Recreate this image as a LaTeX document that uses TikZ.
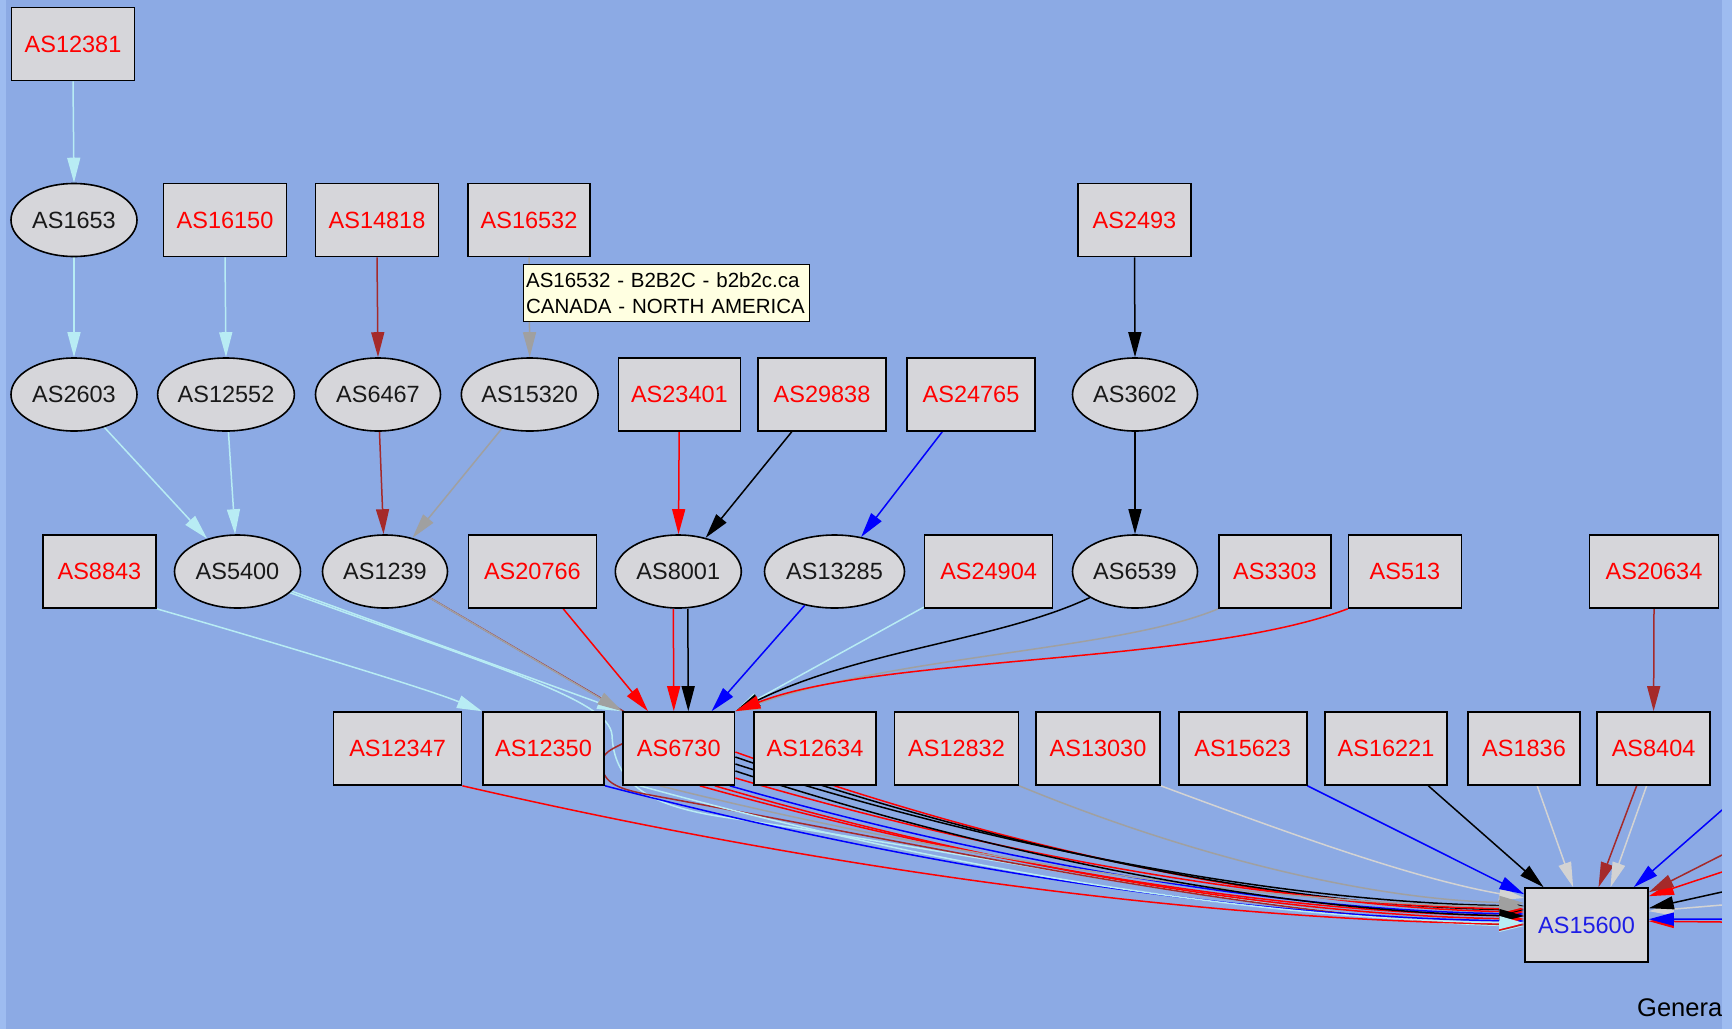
\documentclass[tikz,border=0pt]{standalone}
\usepackage{fontspec}
\newfontfamily\lsans{Liberation Sans}
\usetikzlibrary{shapes.geometric,arrows.meta,calc}
\definecolor{bgblue}{RGB}{140,170,228}
\definecolor{strip}{RGB}{158,188,240}
\definecolor{nfill}{RGB}{214,214,218}
\definecolor{pcyan}{RGB}{184,236,244}
\definecolor{brn}{RGB}{165,42,42}
\definecolor{gry}{RGB}{160,160,160}
\definecolor{lgry}{RGB}{211,211,211}
\definecolor{tipfill}{RGB}{255,255,225}
\definecolor{dtext}{RGB}{25,25,25}
\definecolor{btext}{RGB}{30,30,230}
\pgfdeclarelayer{edges}
\pgfsetlayers{edges,main}
\tikzset{
  nd/.style={draw=black,line width=1.6pt,fill=nfill,inner sep=0pt,minimum height=73pt,
    font=\lsans\fontsize{23.5}{28}\selectfont},
  box/.style={nd,rectangle,text=red},
  ell/.style={nd,ellipse,text=dtext},
  conn/.style={line width=1.5pt,-{Triangle[length=25pt,width=13pt]}},
  plain/.style={line width=1.5pt},
}
\newcommand\bcurve[3]{%
  \draw[conn,#1] let \p1=(#2), \p2=(#3) in (\p1)
    .. controls ({\x1+0.35*(\x2-\x1)},{\y1+0.62*(\y2-\y1)})
    and ({\x1+0.7*(\x2-\x1)},{\y1+0.97*(\y2-\y1)}) .. (\p2);}
\begin{document}
\begin{tikzpicture}[x=1pt,y=-1pt]
\useasboundingbox (0,0) rectangle (1732,1029);
% row 0
\node[box,minimum width=123pt] (AS12381) at (73,44) {AS12381};
% row 1
\node[ell,minimum width=126pt] (AS1653) at (74,220) {AS1653};
\node[box,minimum width=123pt] (AS16150) at (225,220) {AS16150};
\node[box,minimum width=123pt] (AS14818) at (377,220) {AS14818};
\node[box,minimum width=122pt] (AS16532) at (529,220) {AS16532};
\node[box,minimum width=113pt] (AS2493) at (1134.5,220) {AS2493};
% row 2
\node[ell,minimum width=126pt] (AS2603) at (74,394.5) {AS2603};
\node[ell,minimum width=136pt] (AS12552) at (226,394.5) {AS12552};
\node[ell,minimum width=125pt] (AS6467) at (378,394.5) {AS6467};
\node[ell,minimum width=136pt] (AS15320) at (529.7,394.5) {AS15320};
\node[box,minimum width=122pt] (AS23401) at (679.4,394.5) {AS23401};
\node[box,minimum width=128pt] (AS29838) at (822,394.5) {AS29838};
\node[box,minimum width=128pt] (AS24765) at (971,394.5) {AS24765};
\node[ell,minimum width=125pt] (AS3602) at (1135,394.5) {AS3602};
% row 3
\node[box,minimum width=113pt] (AS8843) at (99.4,571.5) {AS8843};
\node[ell,minimum width=126pt] (AS5400) at (237.5,571.5) {AS5400};
\node[ell,minimum width=125pt] (AS1239) at (385,571.5) {AS1239};
\node[box,minimum width=128pt] (AS20766) at (532.4,571.5) {AS20766};
\node[ell,minimum width=126pt] (AS8001) at (678.3,571.5) {AS8001};
\node[ell,minimum width=140pt] (AS13285) at (834.5,571.5) {AS13285};
\node[box,minimum width=128pt] (AS24904) at (988.6,571.5) {AS24904};
\node[ell,minimum width=125pt] (AS6539) at (1135,571.5) {AS6539};
\node[box,minimum width=112pt] (AS3303) at (1275,571.5) {AS3303};
\node[box,minimum width=113pt] (AS513) at (1405,571.5) {AS513};
\node[box,minimum width=129pt] (AS20634) at (1654,571.5) {AS20634};
% row 4
\node[box,minimum width=128pt] (AS12347) at (397.6,748.5) {AS12347};
\node[box,minimum width=121.5pt] (AS12350) at (543.5,748.5) {AS12350};
\node[box,minimum width=111.6pt] (AS6730) at (678.8,748.5) {AS6730};
\node[box,minimum width=121.5pt] (AS12634) at (815,748.5) {AS12634};
\node[box,minimum width=123.7pt] (AS12832) at (956.5,748.5) {AS12832};
\node[box,minimum width=124pt] (AS13030) at (1098,748.5) {AS13030};
\node[box,minimum width=128pt] (AS15623) at (1242.7,748.5) {AS15623};
\node[box,minimum width=121.5pt] (AS16221) at (1386,748.5) {AS16221};
\node[box,minimum width=111.6pt] (AS1836) at (1524,748.5) {AS1836};
\node[box,minimum width=113pt] (AS8404) at (1653.6,748.5) {AS8404};
% row 5
\node[box,minimum width=123pt,minimum height=74pt,text=btext] (AS15600) at (1586.5,925) {AS15600};
% free ends beyond the right border
\coordinate (r1) at (1722,810);
\coordinate (r2) at (1722,855);
\coordinate (r3) at (1722,872);
\coordinate (r4) at (1722,892);
\coordinate (r5) at (1722,905);
\coordinate (r6) at (1722,922);
\coordinate (r7) at (1722,919);

\begin{pgfonlayer}{edges}
\fill[bgblue] (0,0) rectangle (1732,1029);
% upper tree
\draw[conn,pcyan] (AS12381.south) -- (AS1653.north);
\draw[conn,pcyan] (AS1653.south) -- (AS2603.north);
\draw[conn,pcyan] (AS16150.south) -- (AS12552.north);
\draw[conn,brn] (AS14818.south) -- (AS6467.north);
\draw[conn,gry] (AS16532.south) -- (AS15320.north);
\draw[conn,black] (AS2493.south) -- (AS3602.north);
\draw[conn,black] (AS3602.south) -- (AS6539.north);
\draw[conn,pcyan] (AS2603) -- (AS5400);
\draw[conn,pcyan] (AS12552) -- (AS5400);
\draw[conn,brn] (AS6467) -- (AS1239);
\draw[conn,gry] (AS15320) -- (AS1239);
\draw[conn,red] (AS23401) -- (AS8001);
\draw[conn,black] (AS29838) -- (AS8001);
\draw[conn,blue] (AS24765) -- (AS13285);
\draw[conn,brn] (AS20634.south) -- (AS8404.north);
% into AS12350 / AS6730
\draw[conn,pcyan] (AS8843.south east) .. controls (300,650) and (430,690) .. (AS12350.north west);
\draw[conn,pcyan] (AS5400.-22) .. controls (500,669) and (609,700) .. (612,735)
  .. controls (614,790) and (660,808) .. (730,818)
  .. controls (1000,858) and (1300,920) .. ([yshift=-1pt]AS15600.west);
\draw[conn,pcyan] (AS5400) -- (AS6730.north west);
\draw[conn,brn] (AS1239) -- (628,714) .. controls (650,750) and (600,740) .. (602,765)
  .. controls (603,783) and (618,789) .. (650,795)
  .. controls (950,850) and (1260,918) .. (AS15600.west);
\draw[conn,gry] (AS1239) -- (AS6730.north west);
\draw[conn,red] (AS20766) -- (AS6730);
\draw[conn,red] ([xshift=-5pt]AS8001.south) -- ([xshift=-5pt]AS6730.north);
\draw[conn,black] ([xshift=9.5pt]AS8001.south) -- ([xshift=9.5pt]AS6730.north);
\draw[conn,blue] (AS13285) -- (AS6730);
\draw[conn,pcyan] (AS24904) -- (AS6730.north east);
\draw[conn,black] (AS6539.210) .. controls (1000,640) and (860,650) .. (AS6730.north east);
\draw[conn,gry] (AS3303.south west) .. controls (1120,650) and (900,655) .. (AS6730.north east);
\draw[conn,red] (AS513.south west) .. controls (1200,665) and (880,655) .. (AS6730.north east);
% bundle into AS15600
\bcurve{red}{AS12347.south east}{[yshift=1pt]AS15600.west}
\bcurve{blue}{AS12350.south east}{[yshift=4pt]AS15600.west}
\bcurve{red}{[xshift=21pt]AS6730.south}{[yshift=9pt]AS15600.west}
\bcurve{red}{[xshift=36pt]AS6730.south}{[yshift=6pt]AS15600.west}
\bcurve{blue}{[xshift=51pt]AS6730.south}{[yshift=11pt]AS15600.west}
\bcurve{red}{[yshift=-3.5pt]AS6730.east}{[yshift=13pt]AS15600.west}
\bcurve{black}{[yshift=-8.5pt]AS6730.east}{[yshift=15pt]AS15600.west}
\bcurve{black}{[yshift=-15.5pt]AS6730.east}{[yshift=19pt]AS15600.west}
\bcurve{red}{[yshift=-29.5pt]AS6730.east}{[yshift=16pt]AS15600.west}
\draw[conn,lgry] (AS13030.south east) .. controls (1280,830) and (1410,878) .. ([yshift=27pt]AS15600.west);
\bcurve{gry}{AS12832.south east}{[yshift=22pt]AS15600.west}
\bcurve{gry}{[xshift=-19pt]AS6730.south}{[yshift=18pt]AS15600.west}
\bcurve{black}{[yshift=-22.5pt]AS6730.east}{[yshift=9pt]AS15600.west}
\bcurve{pcyan}{[xshift=-39pt]AS6730.south}{[yshift=2pt]AS15600.west}
% upper row into AS15600
\draw[conn,blue] (AS15623.south east) -- ([yshift=-7pt]AS15600.north west);
\draw[conn,black] (AS16221) -- (AS15600);
\draw[conn,lgry] (AS1836) -- (AS15600);
\draw[conn,brn] ([xshift=-17pt]AS8404.south) -- ([xshift=12pt]AS15600.north);
\draw[conn,lgry] ([xshift=-7pt]AS8404.south) -- ([xshift=24pt]AS15600.north);
% from beyond the right border
\draw[conn,blue] (r1) -- ([xshift=-15pt]AS15600.north east);
\draw[conn,red] (r3) -- ([yshift=-9pt]AS15600.north east);
\draw[conn,brn] (r2) -- ([yshift=-5pt]AS15600.north east);
\draw[conn,lgry] (r5) -- ([yshift=-24pt]AS15600.north east);
\draw[conn,black] (r4) -- ([yshift=-21pt]AS15600.north east);
\draw[conn,red] (r6) -- ([yshift=-34pt]AS15600.north east);
\draw[conn,blue] (r7) -- ([yshift=-32pt]AS15600.north east);
\end{pgfonlayer}

% tooltip
\node[draw=black,line width=1.2pt,fill=tipfill,anchor=north west,inner xsep=3pt,inner ysep=0pt,
  text width=280pt,minimum height=57pt,align=left,
  font=\lsans\fontsize{20.5}{25.4}\selectfont] (tip) at (522.5,264)
  {AS16532 - B2B2C - b2b2c.ca\\CANADA - NORTH AMERICA};
% footer text
\node[anchor=west,inner sep=0pt,font=\lsans\fontsize{25.5}{30}\selectfont] (gen) at (1637,1008) {Genera};
% border strips
\fill[strip] (1722,0) rectangle (1732,1029);
\fill[strip] (0,0) rectangle (6,1029);
\end{tikzpicture}
\end{document}
